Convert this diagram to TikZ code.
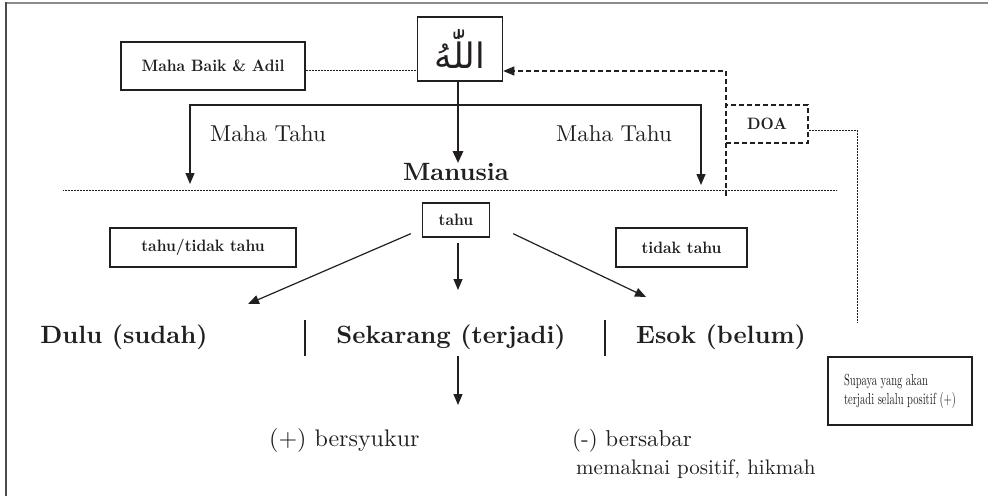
\documentclass[tikz,border=0pt]{standalone}
\usepackage{fontspec}
\setmainfont{lmroman10-regular}[Extension=.otf, BoldFont=lmroman10-bold, ItalicFont=lmroman10-italic]
\usetikzlibrary{arrows.meta,calc}
\newfontfamily\arabicfont[Script=Arabic]{DejaVu Sans}
\TeXXeTstate=1
\definecolor{ink}{HTML}{231F20}
\newcommand\sqz[1]{\scalebox{0.93}[1]{#1}}
\tikzset{
  every node/.style={text=ink},
  box/.style={draw=ink, line width=1.3pt, rectangle, inner sep=0pt},
  dbox/.style={draw=ink, line width=1.2pt, dash pattern=on 5pt off 3pt, rectangle, inner sep=0pt},
  arr/.style={draw=ink, line width=1.2pt, -{Triangle[length=11pt,width=9pt]}},
  dotl/.style={draw=ink, line width=0.7pt, dash pattern=on 0.7pt off 0.8pt},
  dashl/.style={draw=ink, line width=1.2pt, dash pattern=on 5pt off 3pt},
  smallbold/.style={font=\fontsize{16.5}{20}\selectfont\bfseries},
  bigbold/.style={font=\fontsize{25}{30}\selectfont\bfseries, inner sep=0pt},
  reg/.style={font=\fontsize{23}{27}\selectfont, inner sep=0pt},
}
\begin{document}
\begin{tikzpicture}[x=1pt,y=-1pt]
\useasboundingbox (0,0) rectangle (988,496);
% frame
\draw[line width=2.5pt, color=black!45] (5,3) -- (988,3);
\draw[line width=2.2pt, color=black!70] (6,2) -- (6,496);

% top nodes
\node[box, line width=1.5pt, minimum width=85pt, minimum height=64pt] (allah) at (460,49) {\fontsize{35}{38}\arabicfont\beginR اللّٰهُ\endR};
\node[box, minimum width=184pt, minimum height=48pt, smallbold] (baik) at (213,66) {\sqz{Maha Baik \& Adil}};
\coordinate (dy) at (0,70);
\draw[dotl] (baik.east |- dy) -- (allah.west |- dy);

\node[bigbold] (manusia) at (456,172) {Manusia};
\coordinate (thx) at (458,0);
\draw[draw=ink, line width=2.8pt, -{Triangle[length=12pt,width=10pt]}] (allah.south -| thx) -- (manusia.north -| thx);

% Maha Tahu branches
\coordinate (brL) at (190,105);
\coordinate (brR) at (701,105);
\coordinate (tipL) at (190,184);
\coordinate (tipR) at (701,185);
\draw[draw=ink, line width=1.2pt, {Triangle[length=11pt,width=9pt]}-{Triangle[length=11pt,width=9pt]}] (tipL) -- (brL) -- (brR) -- (tipR);
\node[reg] (mtL) at (268,134) {Maha Tahu};
\node[reg] (mtR) at (614,134) {Maha Tahu};

% horizontal dotted separator
\coordinate (sepA) at (63,190);
\coordinate (sepB) at (837,190);
\draw[dotl] (sepA) -- (sepB);

% DOA
\node[dbox, minimum width=82pt, minimum height=38pt, smallbold] (doa) at (767,124) {\sqz{DOA}};
\coordinate (dTop) at (726,71);
\coordinate (dBot) at (726,196);
\draw[dashl, -{Triangle[length=11pt,width=9pt]}] (dBot) -- (dTop) -- (allah.east |- dTop);
\coordinate (d1) at (857,130);
\coordinate (d2) at (857,323);
\draw[dotl] (doa.east |- d1) -- (d1) -- (d2);

% second level
\node[box, minimum width=67pt, minimum height=34pt, smallbold] (tahu) at (456,220) {\sqz{tahu}};
\node[box, minimum width=186pt, minimum height=39pt, smallbold] (ttt) at (203,247.5) {\sqz{tahu/tidak tahu}};
\node[box, minimum width=131pt, minimum height=39pt, smallbold] (tt) at (681.5,247.5) {\sqz{tidak tahu}};

\node[bigbold] (dulu) at (124,337) {Dulu (sudah)};
\node[bigbold] (sek) at (451,337) {Sekarang (terjadi)};
\node[bigbold] (esok) at (721,337) {Esok (belum)};

\coordinate (tip1) at (248,304);
\coordinate (tip2) at (458,290);
\coordinate (tip3) at (646,297);
\draw[arr] ($(tahu.south west)+(-11,-4)$) -- (tip1);
\draw[arr] ($(tahu.south)+(2,5)$) -- (tip2);
\draw[arr] ($(tahu.south east)+(23,-4)$) -- (tip3);

% separators
\coordinate (s1a) at (305,320); \coordinate (s1b) at (305,356);
\coordinate (s2a) at (605,320); \coordinate (s2b) at (605,356);
\draw[draw=ink, line width=1.1pt] (s1a) -- (s1b);
\draw[draw=ink, line width=1.1pt] (s2a) -- (s2b);

\coordinate (tip4) at (458,405);
\draw[arr] ($(sek.south -| thx)+(0,6)$) -- (tip4);

\node[reg, font=\fontsize{24}{28}\selectfont, anchor=base west] (syukur) at (269,446) {(+) bersyukur};
\node[reg, anchor=base west] (sabar) at (572,446) {(-) bersabar};
\node[reg, font=\fontsize{21}{26}\selectfont, anchor=base west] (makna) at (576,474) {memaknai positif, hikmah};

\node[box, minimum width=144pt, minimum height=68pt, font=\fontsize{16}{19.5}\selectfont] (supaya) at (900,391) {\scalebox{0.66}[1]{\begin{tabular}{@{}l@{}}Supaya yang akan\\terjadi selalu positif (+)\end{tabular}}};
\end{tikzpicture}
\end{document}
